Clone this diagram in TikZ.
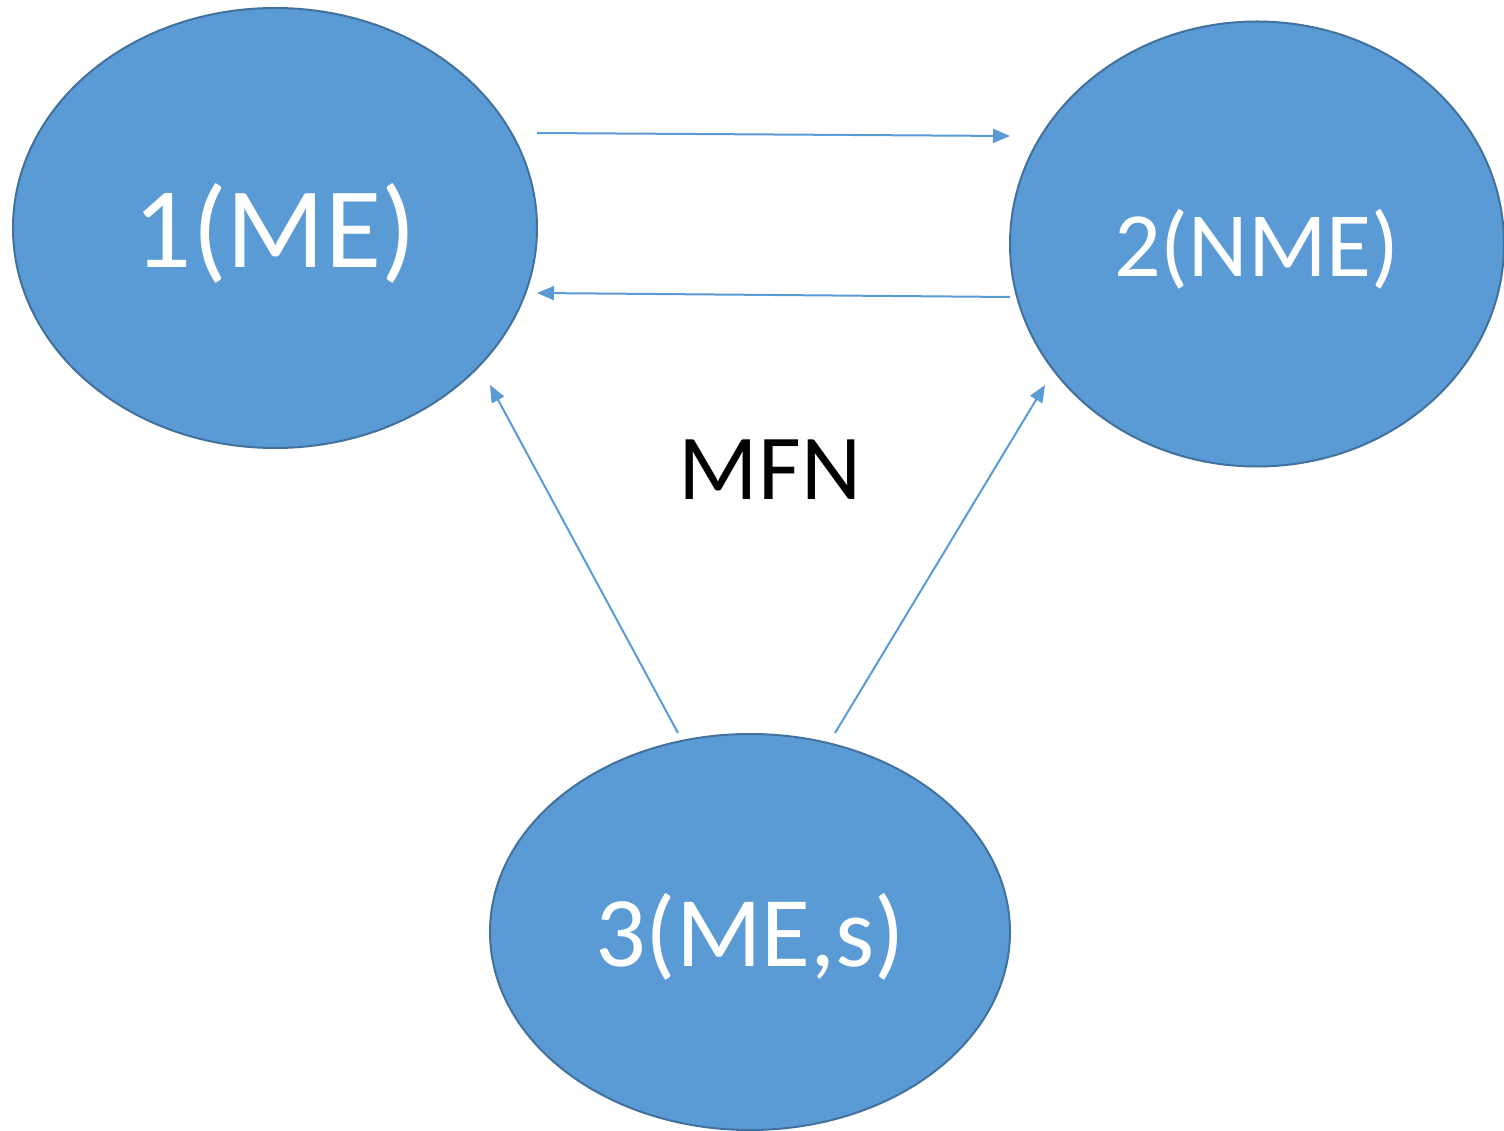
\documentclass[tikz,border=0pt]{standalone}
\usepackage{fontspec}
\setmainfont{Carlito}
\usetikzlibrary{shapes.geometric,arrows.meta}
\definecolor{nodefill}{HTML}{5B9BD5}
\definecolor{nodeedge}{HTML}{41719C}
% lower a label inside its ellipse while keeping its box size
\newcommand{\statelabel}[1]{\raisebox{-5pt}[\height][\depth]{#1}}
\begin{document}
\begin{tikzpicture}[x=1pt,y=-1pt,
  state/.style={ellipse, fill=nodefill, draw=nodeedge, line width=2pt,
    inner sep=0pt, text=white},
  link/.style={draw=nodefill, line width=2pt,
    -{Triangle[length=17pt,width=14pt]}}]
\useasboundingbox (0,0) rectangle (1504,1131);
% states
\node[state, minimum width=524pt, minimum height=440pt, font=\fontsize{115}{130}\selectfont] (s1) at (275,228) {\statelabel{1(ME)}};
\node[state, minimum width=494pt, minimum height=445pt, font=\fontsize{92}{110}\selectfont] (s2) at (1257,244) {\statelabel{2(NME)}};
\node[state, minimum width=520pt, minimum height=396pt, font=\fontsize{100}{120}\selectfont] (s3) at (750,932) {\statelabel{3(ME,s)}};
\node[font=\fontsize{93}{110}\selectfont] (mfn) at (770,470) {MFN};
% connector end points
\coordinate (a1) at (537,133);
\coordinate (a2) at (1010,136);
\coordinate (b1) at (1010,297);
\coordinate (b2) at (537,293);
\coordinate (c1) at (678,733);
\coordinate (c2) at (490,385);
\coordinate (d1) at (835,733);
\coordinate (d2) at (1045,385);
% transitions
\draw[link] (a1) -- (a2);
\draw[link] (b1) -- (b2);
\draw[link] (c1) -- (c2);
\draw[link] (d1) -- (d2);
\end{tikzpicture}
\end{document}
